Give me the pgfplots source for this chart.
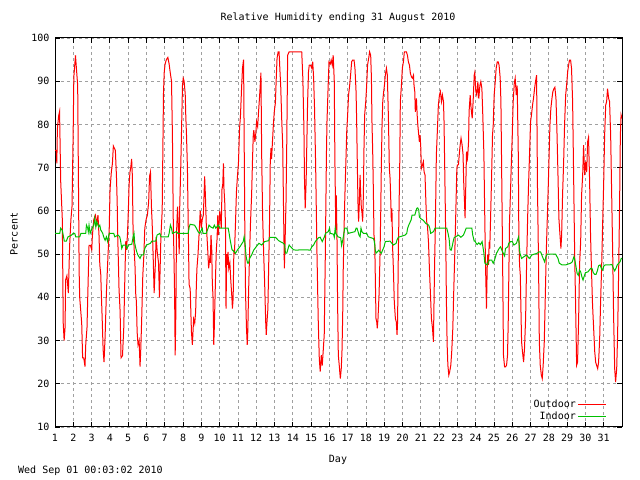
\documentclass[border=0pt]{standalone}
\usepackage{fontspec}
\setmainfont{DejaVu Sans Mono}
\usepackage{pgfplots}
\pgfplotsset{compat=1.18}
\definecolor{gpred}{HTML}{FF0000}
\definecolor{gpgreen}{HTML}{00C000}
\definecolor{gpgrid}{HTML}{A0A0A0}

% outdoor relative humidity, x in days
\pgfplotstableread{
x y
1.00 74
1.07 74
1.10 71
1.13 79
1.20 82
1.25 83
1.31 67
1.40 58
1.45 34
1.50 30
1.55 33
1.58 44
1.65 45
1.73 41
1.80 52
1.87 58
1.93 61
1.99 77
2.03 91
2.12 96
2.17 93
2.24 89
2.28 68
2.32 46
2.35 40
2.46 34
2.51 26
2.57 26
2.64 24
2.68 29
2.75 33
2.79 40
2.86 52
2.94 52
3.01 51
3.04 54
3.12 58
3.21 59
3.28 57
3.35 59
3.41 54
3.45 47.5
3.50 45.5
3.54 40
3.58 35
3.63 28
3.68 25
3.74 31
3.81 41
3.90 50
3.96 55
4.01 65
4.08 69
4.14 71
4.19 75
4.30 74
4.36 68
4.40 62
4.43 54
4.47 47.5
4.50 42
4.56 36.7
4.61 26
4.69 26.5
4.76 33
4.83 46.7
4.87 53
4.91 51
4.96 54.4
5.01 60
5.05 66
5.10 69
5.14 70
5.19 72
5.23 68
5.27 55
5.32 52
5.38 46.7
5.41 41
5.45 39
5.49 32
5.54 29
5.60 30
5.65 24
5.69 28
5.74 35
5.80 45
5.85 49
5.91 56
5.98 58
6.05 59
6.12 62
6.17 68
6.22 69
6.28 60
6.31 57.5
6.37 49
6.42 41
6.48 47
6.53 54
6.59 50.5
6.66 48
6.71 40
6.75 47
6.79 54
6.86 60
6.90 75
6.93 87
6.97 92
7.02 94
7.09 95
7.17 95.5
7.24 94
7.30 92
7.37 90
7.42 77.5
7.47 56
7.50 50.5
7.54 40.5
7.57 26.6
7.61 37
7.64 54.4
7.70 61
7.75 56
7.79 50
7.82 61
7.88 71
7.93 81
7.97 89
8.01 90.7
8.06 90
8.12 87
8.15 82
8.19 77.5
8.24 70
8.28 58
8.33 43
8.39 42
8.46 32
8.51 29
8.58 35
8.64 34
8.69 36.7
8.73 43
8.76 46.7
8.82 50
8.87 54
8.94 60
9.00 56
9.05 58
9.11 59
9.15 63.7
9.18 68
9.22 64
9.27 57
9.35 51
9.40 46.7
9.46 49
9.49 48
9.53 54.4
9.57 51
9.60 43.6
9.64 40
9.68 29
9.71 33
9.75 40
9.79 46.7
9.82 51
9.86 53.5
9.90 59
9.93 54.4
9.97 57
10.01 60
10.04 59
10.09 56
10.13 65
10.17 66
10.21 71
10.24 65
10.28 62
10.32 57
10.35 37.4
10.39 50
10.43 47.5
10.46 50.5
10.50 46.7
10.56 48
10.61 44
10.67 40
10.70 37.4
10.74 39.7
10.78 51
10.81 50
10.87 57.4
10.92 64.4
10.98 68.3
11.03 71
11.09 79
11.14 82
11.20 88.3
11.25 93
11.31 95
11.34 77.5
11.38 54.4
11.42 40.5
11.47 32.8
11.51 29
11.54 32
11.58 40.5
11.64 50.5
11.69 57.4
11.75 63.7
11.80 72
11.84 77.5
11.87 78.7
11.93 76
11.98 78
12.02 80.6
12.08 79.5
12.13 83
12.19 86.8
12.22 89
12.26 92
12.30 73
12.35 59
12.41 50
12.46 43.6
12.52 34.3
12.55 31.3
12.59 34.3
12.64 37.4
12.68 46.7
12.73 57.4
12.77 71.4
12.81 74.5
12.84 72
12.90 76.8
12.94 80
12.99 83
13.05 85
13.09 89.9
13.14 95.3
13.20 96.8
13.25 96.8
13.31 91.4
13.34 89
13.40 80.6
13.45 75.2
13.49 62
13.54 46.7
13.58 53
13.63 62
13.67 75.2
13.72 96
13.80 96.8
14.49 96.8
14.55 90.7
14.61 79
14.64 67.5
14.68 60.6
14.73 66.7
14.77 76
14.81 85
14.86 92.2
14.90 93.7
14.97 93.7
15.04 93
15.09 94.5
15.14 90.7
15.19 83.7
15.25 70.6
15.32 51
15.39 35
15.45 25.8
15.50 22.8
15.56 26.6
15.61 24.2
15.67 28
15.72 31.3
15.78 50
15.84 73
15.87 80.6
15.93 88.3
15.98 94.5
16.05 94
16.10 94.9
16.16 93.7
16.21 96
16.27 89.9
16.30 73
16.33 63
16.35 55.6
16.38 63.6
16.42 52.8
16.45 39
16.49 26.6
16.54 24.3
16.60 21.2
16.65 23.5
16.69 27.4
16.73 35.9
16.76 46.7
16.82 59
16.87 66.7
16.91 72.2
16.95 78.3
17.00 82.2
17.05 86.8
17.11 89
17.16 91.4
17.22 94.5
17.27 94.9
17.35 94.9
17.40 93
17.46 87.6
17.49 81.4
17.53 70.6
17.57 60.6
17.60 57.5
17.64 62
17.68 68.3
17.71 64.4
17.75 60.6
17.78 59.8
17.82 57.5
17.86 63.6
17.89 73.7
17.93 82.2
17.99 85.3
18.04 89
18.09 93.8
18.15 95.3
18.20 96.8
18.26 96
18.30 90.7
18.33 80.6
18.37 73.7
18.41 63.6
18.44 54.4
18.48 52.8
18.52 42.8
18.55 35.1
18.59 34.3
18.62 32.8
18.66 35.1
18.72 41
18.77 49.8
18.81 59.8
18.84 69.8
18.88 79.8
18.92 85.3
18.95 86.8
19.01 89
19.06 91.4
19.12 93
19.17 91.4
19.23 81.4
19.28 69.8
19.32 67.5
19.35 63.6
19.39 57.5
19.42 60.6
19.46 51.3
19.50 46.7
19.55 39
19.61 35.1
19.66 34.3
19.70 31.3
19.73 34.3
19.77 49.8
19.81 60.6
19.85 71.4
19.88 85.3
19.94 89
19.99 93
20.05 94.5
20.10 96.8
20.21 96.8
20.27 96
20.32 94.5
20.38 93.7
20.43 91.8
20.49 91
20.54 90.7
20.60 91.4
20.63 89
20.67 87.6
20.70 82.9
20.76 86
20.81 81.5
20.85 79.2
20.89 77.5
20.92 76
20.96 77.5
21.00 74.5
21.03 69.8
21.09 70.6
21.14 71.4
21.18 69
21.23 68.3
21.29 60.6
21.32 57.5
21.36 56.7
21.42 52.8
21.47 46.7
21.53 40.5
21.58 35.1
21.64 32.8
21.69 29.7
21.75 46.7
21.80 57.5
21.85 72.9
21.91 79
21.96 84.5
22.02 86.8
22.07 87.6
22.13 85.3
22.18 86.8
22.24 85.3
22.27 80.6
22.33 63.6
22.37 51.3
22.40 39
22.44 29
22.48 24.3
22.53 22
22.58 22.8
22.64 24.3
22.69 27.4
22.75 32.8
22.80 41.3
22.86 50.5
22.91 59
22.97 69.8
23.00 70.6
23.06 70.7
23.10 72.9
23.15 75.2
23.20 76.8
23.26 75.2
23.31 73
23.35 66
23.39 62
23.42 58.3
23.46 66
23.50 73.7
23.53 71.4
23.57 73
23.61 76
23.64 83
23.70 86.8
23.75 83.7
23.81 81.4
23.86 85.3
23.92 91.4
23.95 92
24.01 87.6
24.06 86.8
24.12 89.9
24.17 86
24.23 89
24.28 89.9
24.34 88.3
24.39 82
24.45 73
24.48 63.6
24.52 52
24.55 45.1
24.59 37.4
24.63 46.7
24.66 49.8
24.70 47.5
24.74 52.8
24.77 51.3
24.81 57.5
24.85 64.4
24.88 69.8
24.92 77.5
24.96 79.9
25.01 86.8
25.07 89.9
25.12 93
25.18 94.5
25.23 94.5
25.28 93.7
25.34 90.7
25.38 85.3
25.41 73.7
25.45 57.5
25.49 40.7
25.52 26.6
25.58 23.9
25.63 23.9
25.69 24.3
25.74 26.6
25.78 34.3
25.81 44.3
25.85 57.5
25.91 65.2
25.94 69.8
26.00 77.5
26.05 85.3
26.11 89.5
26.16 90.7
26.22 86.8
26.27 89
26.33 73
26.36 54.4
26.40 47.5
26.44 45.1
26.47 38.2
26.51 29.7
26.56 27.4
26.62 25
26.67 28.2
26.73 35.1
26.78 46.7
26.84 58.3
26.89 66
26.95 73.7
27.00 80.6
27.05 82.2
27.11 84.5
27.16 86
27.22 88.3
27.27 89.9
27.33 91.4
27.38 65.2
27.44 46.7
27.48 29.7
27.53 24.3
27.59 22
27.64 21.2
27.69 24.3
27.75 29.7
27.80 39
27.86 50.5
27.91 57.5
27.97 66
28.02 73.7
28.06 79.9
28.11 83.7
28.17 86
28.22 87.6
28.28 88.3
28.33 88.6
28.39 86
28.44 79
28.50 68.3
28.55 58.3
28.61 54.4
28.66 51.3
28.70 54.4
28.75 63.6
28.81 71.4
28.86 79.9
28.92 86.8
28.97 89
29.03 92.2
29.08 93.7
29.13 94.9
29.19 94.9
29.24 93
29.30 85.3
29.35 69.8
29.41 50.5
29.46 39
29.52 24.3
29.57 25
29.63 35.1
29.68 47.5
29.74 52.8
29.79 63.6
29.85 68.3
29.90 75.2
29.96 68.3
30.01 71.4
30.07 69
30.12 76
30.17 77
30.23 66.7
30.28 54.4
30.34 45.1
30.39 38.2
30.45 32.8
30.51 27.4
30.56 25
30.61 24.3
30.67 23.5
30.72 25
30.78 30.5
30.83 39
30.89 47.5
30.94 56.7
31.00 66.7
31.05 77.5
31.11 84.5
31.16 85.3
31.21 88.3
31.27 86
31.32 85.3
31.38 77.5
31.43 65.2
31.49 50.5
31.54 35.9
31.60 23.5
31.65 20.4
31.71 23.5
31.76 31.3
31.82 46.7
31.87 62
31.91 77.5
31.95 82.2
32.00 81.4
}\outdoor

% indoor relative humidity, x in days
\pgfplotstableread{
x y
1.00 54.8
1.26 54.8
1.31 56
1.40 55.5
1.51 53
1.62 53
1.71 54
1.91 54.4
1.99 54.8
2.08 54.8
2.13 54
2.35 54
2.42 54.8
2.68 54.8
2.72 56.7
2.79 56
2.82 55.2
2.86 56.7
2.92 54.8
3.03 56
3.12 56.7
3.17 58.3
3.23 56.3
3.28 57.5
3.39 56.3
3.45 56.7
3.50 55.6
3.61 54.8
3.66 54
3.74 53.2
3.81 54
3.88 52.9
3.96 54.8
4.21 54.8
4.27 54
4.45 54.4
4.54 54
4.59 53
4.65 51.3
4.72 52.1
4.87 52.1
4.94 51.3
5.01 52.1
5.20 52.3
5.27 54
5.32 54.8
5.36 52.5
5.42 51.3
5.47 50.5
5.53 49.8
5.65 49
5.73 49.8
5.84 49.8
5.91 51.3
6.00 52.1
6.22 52.5
6.29 53
6.51 53
6.58 54.4
6.73 54.8
6.80 54
7.19 54
7.24 54.8
7.31 56.7
7.37 56
7.42 54.8
7.64 55.2
7.72 54.8
8.28 54.8
8.34 56.3
8.39 56.9
8.63 56.7
8.73 56
8.82 55.2
8.91 54.8
9.05 56
9.09 54.8
9.27 54.8
9.37 56
9.42 56.7
9.51 56.3
9.64 56
9.71 56.7
9.79 56
9.93 56.7
10.01 56
10.47 56
10.52 54.8
10.58 53.2
10.63 52.1
10.68 51
10.81 50.5
10.87 50.2
10.98 51
11.11 51.7
11.29 52.9
11.34 54
11.40 52.1
11.44 49.8
11.47 49
11.53 47.9
11.58 47.9
11.64 49
11.75 49.8
11.86 50.9
12.00 51.7
12.15 52.5
12.30 52.1
12.46 52.9
12.68 53.1
12.75 53.9
13.05 53.9
13.23 53.1
13.49 52.5
13.56 52.1
13.60 50.2
13.67 50.2
13.80 52.1
14.04 51
14.22 50.9
14.40 51
14.59 51
14.77 51
14.95 50.9
15.04 51.7
15.14 52.1
15.23 52.9
15.41 53.8
15.50 53.9
15.61 52.9
15.72 53.9
15.79 54.8
15.94 55.2
16.01 56
16.05 54.8
16.23 54.6
16.27 53.9
16.32 56
16.36 54.8
16.47 54
16.62 53.8
16.67 52
16.73 53.2
16.78 54.4
16.84 56
16.95 56
17.04 54.8
17.40 55.2
17.46 56
17.51 56
17.57 55.2
17.62 54.4
17.68 54
17.73 56
17.78 55.2
17.86 54.8
18.04 54.8
18.13 54
18.41 53.6
18.46 52.9
18.51 51
18.55 50.2
18.70 50.9
18.77 50.5
18.84 50.2
18.92 51
18.99 51.7
19.06 52.9
19.32 53
19.50 52.1
19.65 52.5
19.70 53.3
19.77 53.9
20.14 54.4
20.23 54.8
20.28 56
20.34 56.7
20.47 57.9
20.52 59
20.67 59
20.78 60.6
20.83 60.7
20.89 60.2
20.92 58.6
21.00 58.2
21.14 57.8
21.27 57.1
21.43 56.7
21.49 56
21.54 54.8
21.69 55.2
21.78 56
22.42 56
22.49 54.8
22.55 53.5
22.60 51
22.66 50.9
22.71 51.7
22.77 52.9
22.82 53.8
23.06 54.4
23.19 53.9
23.33 54.4
23.41 55.2
23.48 56
23.79 56
23.84 54.4
23.92 53
23.97 53
24.01 52.6
24.08 52.2
24.17 52.6
24.26 52.2
24.35 52.9
24.41 51.3
24.45 50.2
24.50 47.9
24.63 47.5
24.74 48.6
24.88 48.6
24.96 47.9
25.03 48.6
25.14 50.2
25.28 51.3
25.36 51.7
25.47 50.5
25.58 49.6
25.63 51.3
25.76 51.7
25.81 52.5
25.91 52.9
26.00 52.9
26.09 52.1
26.23 52.5
26.29 53.3
26.34 53.9
26.38 52.1
26.42 50.2
26.51 49
26.64 49.4
26.78 49.8
26.93 49
27.07 49.8
27.36 50.2
27.46 50.5
27.55 50.5
27.69 49
27.77 48.2
27.84 49.4
27.91 50
28.37 50
28.50 49
28.57 47.9
28.72 47.5
28.92 47.5
29.19 47.9
29.28 48.2
29.37 49.4
29.44 48.2
29.50 46.7
29.55 45.5
29.61 45.1
29.68 46.3
29.74 45.9
29.81 44.7
29.87 44
29.92 44.7
30.00 45.7
30.14 45.9
30.29 46.7
30.36 46.7
30.43 45.7
30.51 45.3
30.58 45.3
30.65 46.1
30.72 47.3
30.80 47.5
30.87 46.7
30.94 46.3
31.01 47.3
31.09 47.5
31.31 47.5
31.45 47.6
31.53 46.7
31.60 46.1
31.67 46.7
31.74 47.5
31.89 48.2
31.96 49
32.00 49
}\indoor

\begin{document}
\begin{tikzpicture}[font=\fontsize{10bp}{12bp}\selectfont]
\useasboundingbox (0,0) rectangle (640bp,480bp);
\begin{axis}[
    at={(55bp,53bp)}, anchor=south west,
    scale only axis,
    width=567bp, height=389bp,
    xmin=1, xmax=32,
    ymin=10, ymax=100,
    xtick={1,...,31},
    ytick={10,20,...,100},
    tick pos=both,
    tick align=inside,
    major tick length=5bp,
    tick style={black, line width=0.8bp},
    axis line style={line width=1bp},
    grid=major,
    major grid style={gpgrid, line width=0.8bp, dash pattern=on 3bp off 3bp},
    /pgf/number format/assume math mode=true,
    ticklabel style={font=\fontsize{10bp}{12bp}\selectfont},
    xticklabel style={yshift=-4bp},
    yticklabel style={xshift=-2bp},
    legend cell align=right,
    legend plot pos=right,
    legend image code/.code={\draw[#1] (4bp,0bp) -- (32bp,0bp);},
    legend style={draw=none, fill=none, at={(rel axis cs:1,0)},
        anchor=south east, xshift=-12bp, yshift=2bp,
        font=\fontsize{10bp}{12bp}\selectfont, row sep=-1.5bp},
]
\addplot[no marks, gpred, line width=1bp] table[x=x, y=y] {\outdoor};
\addlegendentry{Outdoor}
\addplot[no marks, gpgreen, line width=1bp] table[x=x, y=y] {\indoor};
\addlegendentry{Indoor}
\end{axis}
\node at (338bp,462bp) {Relative Humidity ending 31 August 2010};
\node at (338bp,20bp) {Day};
\node[rotate=90] at (14bp,246bp) {Percent};
\node[anchor=west, inner sep=0pt] at (18bp,9bp) {Wed Sep 01 00:03:02 2010};
\end{tikzpicture}
\end{document}
